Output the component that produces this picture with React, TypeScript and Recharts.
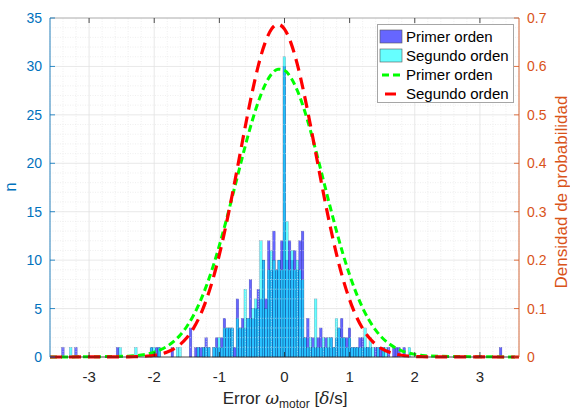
import React from 'react';
import { ComposedChart, Bar, Line, XAxis, YAxis, CartesianGrid, ReferenceLine } from 'recharts';

// histogram bins (centre of each bin) and counts
const binX = [
  -3.4, -3.28, -3.2, -2.56, -2.52, -2.28, -2.04, -2.0, -1.96, -1.92, -1.72, -1.64, -1.6,
  -1.44, -1.36, -1.32, -1.28, -1.24, -1.2, -1.16, -1.08, -1.04, -1.0, -0.96, -0.92, -0.88,
  -0.84, -0.8, -0.76, -0.72, -0.68, -0.64, -0.6, -0.56, -0.52, -0.48, -0.44, -0.4, -0.36,
  -0.32, -0.28, -0.24, -0.2, -0.16, -0.12, -0.08, -0.04, 0.0, 0.04, 0.08, 0.12, 0.16, 0.2,
  0.24, 0.28, 0.32, 0.36, 0.4, 0.44, 0.48, 0.52, 0.56, 0.6, 0.64, 0.68, 0.72, 0.76, 0.8,
  0.84, 0.88, 0.92, 0.96, 1.0, 1.04, 1.08, 1.12, 1.16, 1.2, 1.24, 1.28, 1.32, 1.36, 1.4,
  1.44, 1.48, 1.52, 1.56, 1.6, 1.68, 1.72, 1.76, 1.84, 1.92, 3.32,
];
const primer = [
  1, 0, 1, 1, 0, 0, 1, 0, 1, 1, 1, 0, 0,
  3, 1, 1, 1, 1, 2, 1, 1, 2, 1, 2, 4, 3,
  3, 3, 1, 6, 3, 4, 3, 4, 8, 4, 5, 7, 6,
  10, 6, 12, 9, 13, 9, 10, 12, 30, 10, 12, 10, 11, 9,
  12, 13, 2, 4, 1, 2, 1, 2, 3, 1, 2, 1, 2, 1, 2,
  3, 4, 2, 2, 3, 1, 1, 1, 2, 2, 1, 1, 1, 0, 1,
  1, 1, 1, 0, 1, 1, 1, 1, 1, 0, 1,
];
const segundo = [
  0, 1, 0, 0, 1, 1, 1, 1, 0, 1, 0, 1, 1,
  0, 0, 1, 0, 1, 1, 1, 1, 1, 2, 1, 3, 3,
  3, 3, 0, 4, 3, 3, 7, 4, 4, 5, 6, 5, 12,
  10, 5, 9, 11, 10, 9, 10, 9, 31, 14, 9, 11, 9, 10,
  9, 8, 2, 1, 2, 1, 6, 1, 1, 2, 1, 2, 2, 1, 4,
  3, 2, 2, 1, 2, 1, 1, 1, 1, 1, 3, 1, 2, 1, 0,
  1, 0, 1, 1, 0, 0, 0, 0, 0, 1, 0,
];

// fitted densities
const pdfX = [
  -3.6, -2.4, -2.3, -2.2, -2.1, -2.0, -1.9, -1.8, -1.7, -1.6, -1.5, -1.4, -1.3, -1.2, -1.1,
  -1.0, -0.9, -0.8, -0.7, -0.6, -0.5, -0.4, -0.3, -0.2, -0.1, 0.0, 0.1, 0.2, 0.3, 0.4, 0.5,
  0.6, 0.7, 0.8, 0.9, 1.0, 1.1, 1.2, 1.3, 1.4, 1.5, 1.6, 1.7, 1.8, 1.9, 2.0, 2.1, 2.2, 3.6,
];
const pdfPrimer = [
  0, 0.0015, 0.0025, 0.0041, 0.0064, 0.01, 0.0151, 0.0223, 0.0322, 0.0455, 0.063, 0.0853, 0.113, 0.1465, 0.1856,
  0.2303, 0.2793, 0.3315, 0.3848, 0.4371, 0.4857, 0.5279, 0.5614, 0.5841, 0.5944, 0.5918, 0.5764, 0.5492, 0.512, 0.4669, 0.4165,
  0.3635, 0.3104, 0.2592, 0.2118, 0.1693, 0.1324, 0.1013, 0.0758, 0.0555, 0.0397, 0.0279, 0.0191, 0.0128, 0.0084, 0.0054, 0.0034, 0.0021, 0,
];
const pdfSegundo = [
  0, 0.0003, 0.0006, 0.0011, 0.002, 0.0036, 0.0061, 0.0102, 0.0166, 0.026, 0.0396, 0.0587, 0.0844, 0.118, 0.1602,
  0.2113, 0.2706, 0.3367, 0.4068, 0.4774, 0.5443, 0.6027, 0.6481, 0.677, 0.687, 0.677, 0.6481, 0.6027, 0.5443, 0.4774, 0.4068,
  0.3367, 0.2706, 0.2113, 0.1602, 0.118, 0.0844, 0.0587, 0.0396, 0.026, 0.0166, 0.0102, 0.0061, 0.0036, 0.002, 0.0011, 0.0006, 0.0003, 0,
];

const xTicks = [-3, -2, -1, 0, 1, 2, 3];
const leftTicks = [0, 5, 10, 15, 20, 25, 30, 35];
const rightTicks = [0, 0.1, 0.2, 0.3, 0.4, 0.5, 0.6, 0.7];

const FONT = '"Liberation Sans", Arial, Helvetica, sans-serif';
const BLUE_AX = '#0072BD';
const ORANGE_AX = '#D95319';
const PLOT_TOP = 18;
const PLOT_BOTTOM = 357;
const PLOT_LEFT = 50;
const PLOT_RIGHT = 519;
const BIN_PX = 2.65; // drawn width of one histogram bin

// one bar per bin, as tall as the taller series; the shape splits it into the two overlaid bars
const histRows = binX.map((x, i) => {
  const top = Math.max(primer[i], segundo[i]);
  return { x, p: primer[i], s: segundo[i], top: top > 0 ? top : null };
});
const pdfRows = pdfX.map((x, i) => ({ x, g: pdfPrimer[i], r: pdfSegundo[i] }));

const minorX: number[] = [];
for (let i = -18; i <= 18; i++) if (i % 5 !== 0) minorX.push(i / 5);
const minorY: number[] = [];
for (let i = 1; i < 35; i++) if (i % 5 !== 0) minorY.push(i);

const HistPair = ({ x, y, width, height, payload }: any) => {
  if (!payload || !payload.top || !height) return null;
  const k = height / payload.top; // pixels per count, from the bar's own scale
  const base = y + height;
  const cx = x + width / 2;
  const left = cx - BIN_PX / 2;
  const hp = payload.p * k;
  const hs = payload.s * k;
  return (
    <g>
      {hp > 0 && (
        <rect x={left} y={base - hp} width={BIN_PX} height={hp} fill="#0000FF" fillOpacity={0.6} stroke="#000040" strokeOpacity={0.4} strokeWidth={0.4} />
      )}
      {hs > 0 && (
        <rect x={left} y={base - hs} width={BIN_PX} height={hs} fill="#00FFFF" fillOpacity={0.6} stroke="#000040" strokeOpacity={0.4} strokeWidth={0.4} />
      )}
    </g>
  );
};

const XTick = ({ x, payload }: any) => (
  <g>
    <line x1={x} x2={x} y1={PLOT_BOTTOM} y2={PLOT_BOTTOM - 5} stroke="#262626" strokeWidth={0.8} />
    <line x1={x} x2={x} y1={PLOT_TOP} y2={PLOT_TOP + 5} stroke="#262626" strokeWidth={0.8} />
    <text x={x} y={382} textAnchor="middle" fontSize={15} fill="#262626" fontFamily={FONT}>
      {payload.value}
    </text>
  </g>
);

const LeftTick = ({ y, payload }: any) => (
  <g>
    <line x1={PLOT_LEFT} x2={PLOT_LEFT + 5} y1={y} y2={y} stroke={BLUE_AX} strokeWidth={0.8} />
    <text x={42} y={y + 5} textAnchor="end" fontSize={14} fill={BLUE_AX} fontFamily={FONT}>
      {payload.value}
    </text>
  </g>
);

const RightTick = ({ y, payload }: any) => (
  <g>
    <line x1={PLOT_RIGHT - 5} x2={PLOT_RIGHT} y1={y} y2={y} stroke={ORANGE_AX} strokeWidth={0.8} />
    <text x={527} y={y + 5} textAnchor="start" fontSize={14} fill={ORANGE_AX} fontFamily={FONT}>
      {payload.value}
    </text>
  </g>
);

const XLabel = () => (
  <text x={285} y={404} textAnchor="middle" fontSize={17} fill="#262626" fontFamily={FONT}>
    <tspan>Error </tspan>
    <tspan fontStyle="italic" fontFamily="'DejaVu Serif', serif">ω</tspan>
    <tspan fontSize={12} dy={4}>motor</tspan>
    <tspan dy={-4}> [</tspan>
    <tspan fontStyle="italic" fontFamily="'DejaVu Serif', serif">δ</tspan>
    <tspan>/s]</tspan>
  </text>
);

const LeftLabel = () => (
  <text x={0} y={0} transform="translate(16,187) rotate(-90)" textAnchor="middle" fontSize={17} fill={BLUE_AX} fontFamily={FONT}>
    n
  </text>
);

const RightLabel = () => (
  <text x={0} y={0} transform="translate(567,192) rotate(-90)" textAnchor="middle" fontSize={17} fill={ORANGE_AX} fontFamily={FONT}>
    Densidad de probabilidad
  </text>
);

const legendItems = [
  { kind: 'bar', color: 'rgba(0,0,255,0.6)', label: 'Primer orden' },
  { kind: 'bar', color: 'rgba(0,255,255,0.6)', label: 'Segundo orden' },
  { kind: 'line', color: '#00FF00', dash: '7 4', label: 'Primer orden' },
  { kind: 'line', color: '#FF0000', dash: '11 7', label: 'Segundo orden' },
];

const LegendBox = () => (
  <div
    style={{
      position: 'absolute',
      left: 377,
      top: 24,
      width: 137,
      height: 79,
      boxSizing: 'border-box',
      border: '1px solid #a6a6a6',
      background: '#fff',
      fontFamily: FONT,
      fontSize: 15,
      color: '#000',
      paddingTop: 2,
    }}
  >
    {legendItems.map((it, i) => (
      <div key={i} style={{ display: 'flex', alignItems: 'center', height: 19, lineHeight: '19px' }}>
        <svg width={26} height={19} style={{ marginLeft: 1, marginRight: 1 }}>
          {it.kind === 'bar' ? (
            <rect x={1} y={3} width={22} height={13} fill={it.color} stroke="#555" strokeWidth={0.6} />
          ) : (
            <line x1={3} x2={23} y1={10} y2={10} stroke={it.color} strokeWidth={3} strokeDasharray={it.dash} strokeDashoffset={i === 3 ? -3 : 0} />
          )}
        </svg>
        <span style={{ whiteSpace: 'nowrap' }}>{it.label}</span>
      </div>
    ))}
  </div>
);

export default function App() {
  return (
    <div style={{ position: 'absolute', left: 0, top: 0, width: 570, height: 412, background: '#fff' }}>
      <ComposedChart
        width={570}
        height={412}
        data={histRows}
        margin={{ top: PLOT_TOP, right: 8, bottom: 25, left: 8 }}
        barGap={0}
        barCategoryGap={0}
      >
        <XAxis
          xAxisId="a"
          type="number"
          dataKey="x"
          domain={[-3.6, 3.6]}
          ticks={xTicks}
          allowDataOverflow
          height={30}
          tick={<XTick />}
          tickLine={false}
          axisLine={{ stroke: '#262626', strokeWidth: 0.8 }}
          label={<XLabel />}
        />
        <YAxis
          yAxisId="left"
          orientation="left"
          domain={[0, 35]}
          ticks={leftTicks}
          width={42}
          tick={<LeftTick />}
          tickLine={false}
          axisLine={{ stroke: BLUE_AX, strokeWidth: 0.8 }}
          label={<LeftLabel />}
        />
        <YAxis
          yAxisId="right"
          orientation="right"
          domain={[0, 0.7]}
          ticks={rightTicks}
          width={43}
          tick={<RightTick />}
          tickLine={false}
          axisLine={{ stroke: ORANGE_AX, strokeWidth: 0.8 }}
          label={<RightLabel />}
        />
        <CartesianGrid xAxisId="a" yAxisId="left" stroke="#e2e2e2" strokeWidth={0.8} />
        {minorX.map((v) => (
          <ReferenceLine key={'mx' + v} x={v} xAxisId="a" yAxisId="left" stroke="#e4e4e4" strokeWidth={0.6} strokeDasharray="1 1.5" />
        ))}
        {minorY.map((v) => (
          <ReferenceLine key={'my' + v} y={v} xAxisId="a" yAxisId="left" stroke="#e4e4e4" strokeWidth={0.6} strokeDasharray="1 1.5" />
        ))}
        <ReferenceLine y={35} xAxisId="a" yAxisId="left" stroke="#a6a6a6" strokeWidth={0.8} />
        <Bar
          xAxisId="a"
          yAxisId="left"
          dataKey="top"
          name="histograma"
          shape={<HistPair />}
          isAnimationActive={false}
        />
        <Line
          data={pdfRows}
          xAxisId="a"
          yAxisId="right"
          dataKey="g"
          type="monotone"
          stroke="#00FF00"
          strokeWidth={3}
          strokeDasharray="7 4"
          dot={false}
          isAnimationActive={false}
        />
        <Line
          data={pdfRows}
          xAxisId="a"
          yAxisId="right"
          dataKey="r"
          type="monotone"
          stroke="#FF0000"
          strokeWidth={3.2}
          strokeDasharray="12 7"
          dot={false}
          isAnimationActive={false}
        />
      </ComposedChart>
      <LegendBox />
    </div>
  );
}
